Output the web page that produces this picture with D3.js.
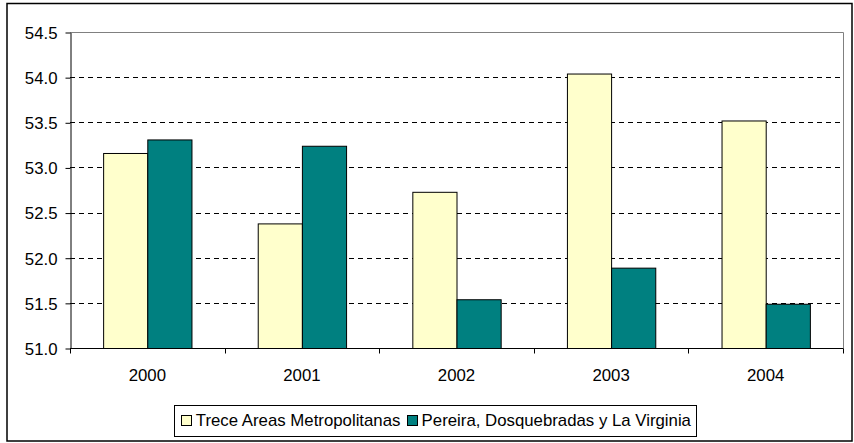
<!DOCTYPE html>
<html>
<head>
<meta charset="utf-8">
<script src="https://cdn.jsdelivr.net/npm/d3@7"></script>
<style>
html,body{margin:0;padding:0;background:#fff;}
svg{display:block;}
text{font-family:"Liberation Sans",Arial,sans-serif;fill:#000;}
</style>
</head>
<body>
<svg id="chart" width="854" height="443"></svg>
<script>
const categories = ["2000","2001","2002","2003","2004"];
const seriesNames = ["Trece Areas Metropolitanas","Pereira, Dosquebradas y La Virginia"];
const treceValues = [53.16, 52.38, 52.73, 54.04, 53.52];
const pereiraValues = [53.31, 53.24, 51.54, 51.89, 51.49];
const yTicks = [51.0, 51.5, 52.0, 52.5, 53.0, 53.5, 54.0, 54.5];
const colors = ["#FFFFCC", "#008080"];

const svg = d3.select("#chart");
const plot = {left: 70, right: 843, top: 32, bottom: 348};
const FS = 16, SX = 1.05;

// outer border
svg.append("rect").attr("x",7).attr("y",3.5).attr("width",845).attr("height",437.5)
  .attr("fill","#fff").attr("stroke","#000").attr("stroke-width",1.5);

const x = d3.scaleBand().domain(categories).range([plot.left, plot.right]).padding(0);
const xs = d3.scaleBand().domain(seriesNames).range([0, x.bandwidth()]).paddingInner(0).paddingOuter(0.75);
const y = d3.scaleLinear().domain([51, 54.5]).range([plot.bottom, plot.top]);

// plot area border (gray top/right)
svg.append("path")
  .attr("d", `M${plot.left},${plot.top+0.5}H${plot.right+0.5}V${plot.bottom}`)
  .attr("fill","none").attr("stroke","#808080").attr("stroke-width",1);

// gridlines
svg.append("g").selectAll("line").data(yTicks.filter(t => t > 51 && t < 54.5)).join("line")
  .attr("x1", plot.left).attr("x2", plot.right)
  .attr("y1", d => Math.round(y(d)) + 0.5).attr("y2", d => Math.round(y(d)) + 0.5)
  .attr("stroke","#000").attr("stroke-width",1).attr("stroke-dasharray","5,4");

// bars
const data = categories.map((c,i) => ({cat:c, values:[treceValues[i], pereiraValues[i]]}));
const groups = svg.append("g").selectAll("g").data(data).join("g")
  .attr("transform", d => `translate(${x(d.cat)},0)`);
groups.selectAll("rect").data(d => d.values.map((v,j) => ({name:seriesNames[j], v, j}))).join("rect")
  .attr("x", d => xs(d.name) + 0.5)
  .attr("y", d => y(d.v) + 0.5)
  .attr("width", xs.bandwidth())
  .attr("height", d => plot.bottom - y(d.v))
  .attr("fill", d => colors[d.j])
  .attr("stroke","#000").attr("stroke-width",1);

// y axis
const yAxis = d3.axisLeft(y).tickValues(yTicks).tickFormat(d3.format(".1f")).tickSizeInner(5).tickSizeOuter(0).tickPadding(8);
const gy = svg.append("g").attr("transform", `translate(${plot.left+0.5},0.5)`).call(yAxis);
gy.select(".domain").attr("stroke","#000");
gy.selectAll(".tick line").attr("stroke","#000");
gy.selectAll(".tick text").attr("font-size", FS).attr("font-family","Liberation Sans, Arial, sans-serif")
  .attr("x", null).attr("dy", null).attr("dominant-baseline","central")
  .attr("transform", `translate(-13,0) scale(${SX},1)`);

// x axis
const gx = svg.append("g").attr("transform", `translate(0,${plot.bottom+0.5})`);
gx.append("line").attr("x1", plot.left).attr("x2", plot.right+0.5).attr("y1",0).attr("y2",0).attr("stroke","#000");
const boundaries = categories.map(c => x(c)).concat([plot.right]);
gx.selectAll("line.tk").data(boundaries).join("line").attr("class","tk")
  .attr("x1", d => Math.round(d)+0.5).attr("x2", d => Math.round(d)+0.5)
  .attr("y1",0).attr("y2",5).attr("stroke","#000");
gx.selectAll("text").data(categories).join("text")
  .attr("transform", d => `translate(${x(d)+x.bandwidth()/2},27) scale(${SX},1)`)
  .attr("text-anchor","middle").attr("dominant-baseline","central")
  .attr("font-size", FS).text(d => d);

// legend
const leg = svg.append("g");
const legY = 420.5;
const items = [];
seriesNames.forEach((n,i) => {
  const t = leg.append("text").attr("font-size", FS).attr("dominant-baseline","central").text(n);
  const w = t.node().getComputedTextLength() * SX;
  items.push({t, w, i});
});
const sq = 10, gapSq = 5, gapItem = 6;
const total = items.reduce((a,it) => a + sq + gapSq + it.w, 0) + gapItem;
const legCenter = 436;
const start = legCenter - total/2;
const padL = 7, padR = 5;
leg.insert("rect", ":first-child").attr("x", Math.round(start - padL) + 0.5).attr("y", 405.5)
  .attr("width", Math.round(total + padL + padR)).attr("height", 31)
  .attr("fill","#fff").attr("stroke","#000").attr("stroke-width",1);
let cx = start;
items.forEach(it => {
  leg.append("rect").attr("x", Math.round(cx)+0.5).attr("y", legY - sq/2)
    .attr("width", sq).attr("height", sq).attr("fill", colors[it.i]).attr("stroke","#000");
  cx += sq + gapSq;
  it.t.attr("transform", `translate(${cx},${legY}) scale(${SX},1)`);
  cx += it.w + gapItem;
});
</script>
</body>
</html>
